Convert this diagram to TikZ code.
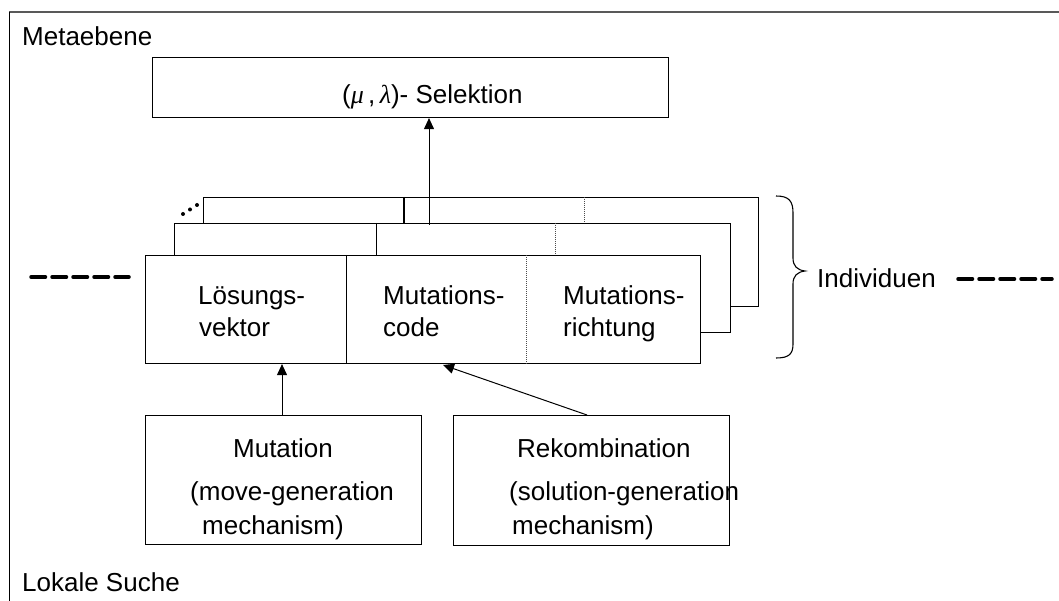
\documentclass[tikz,border=0pt]{standalone}
\usepackage{fontspec}
\setmainfont{Liberation Sans}
\newfontfamily\greekfont{Liberation Serif}
\usetikzlibrary{arrows.meta}
\begin{document}
\begin{tikzpicture}[x=1pt,y=-1pt,
  ln/.style={draw=black, line width=1.1pt},
  dotln/.style={draw=black!70, line width=0.7pt, dash pattern=on 1pt off 1pt},
  layer/.style={draw=black, line width=1.1pt, fill=white, anchor=north west, inner sep=0pt},
  lbl/.style={font=\fontsize{26}{31}\selectfont, inner sep=0pt, anchor=base west},
  lblc/.style={font=\fontsize{26}{31}\selectfont, inner sep=0pt, anchor=base},
  arr/.style={draw=black, line width=1pt, -{Triangle[length=11pt,width=10pt]}},
  dsh/.style={draw=black, line width=3.5pt, line cap=round, dash pattern=on 14.5pt off 6.5pt}
]
\useasboundingbox (0,0) rectangle (1059,601);
% outer frame
\draw[draw=black!65, line width=2pt] (9,12) -- (1059,12);
\draw[draw=black, line width=1pt] (9,12) -- (9,601);
\node[lbl] (meta) at (22,45.5) {Metaebene};
\node[lbl] (lokal) at (22,591) {Lokale Suche};
% selection box
\node[layer, minimum width=516pt, minimum height=60pt] (sel) at (152,57) {};
\node[lbl] (seltxt) at (342,104) {({\greekfont\itshape μ}\,,\,{\greekfont\itshape λ})- Selektion};
% back layer
\node[layer, minimum width=555pt, minimum height=109pt] (back) at (202.7,197) {};
\draw[ln] (back.north west) ++(201.3,0) coordinate (bd1) -- (bd1 |- 0,223);
\draw[dotln] (back.north west) ++(381.3,0) coordinate (bd2) -- (bd2 |- 0,223);
% middle layer
\node[layer, minimum width=556pt, minimum height=109pt] (mid) at (174,223) {};
\draw[ln] (mid.north west) ++(202.7,0) coordinate (md1) -- (md1 |- 0,255);
\draw[dotln] (mid.north west) ++(381.7,0) coordinate (md2) -- (md2 |- 0,255);
% arrow to selection
\coordinate (a1) at (429,225);
\draw[arr] (a1) -- (a1 |- sel.south);
% front layer
\node[layer, minimum width=555pt, minimum height=108pt] (front) at (145,255) {};
\draw[ln] (front.north west) ++(201.7,0) coordinate (fd1) -- (fd1 |- front.south);
\draw[dotln] (front.north west) ++(381,0) coordinate (fd2) -- (fd2 |- front.south);
% dots
\fill (183,214) circle (2) (190,209.5) circle (2) (197,205) circle (2);
% front texts
\node[lbl] (t1a) at (198,305) {Lösungs-};
\node[lbl] (t1b) at (199,336) {vektor};
\node[lbl] (t2a) at (383,305) {Mutations-};
\node[lbl] (t2b) at (383,336) {code};
\node[lbl] (t3a) at (563,305) {Mutations-};
\node[lbl] (t3b) at (563,336) {richtung};
% brace
\draw[ln] (776,196) .. controls (789,196) and (793,201) .. (793,213) -- (793,258)
  .. controls (793,266) and (797,270) .. (805,271)
  .. controls (797,272) and (793,276) .. (793,284) -- (793,344)
  .. controls (793,354) and (789,358) .. (776,358);
\node[lbl] (ind) at (817,288) {Individuen};
% dashes
\coordinate (dl1) at (31,277);
\coordinate (dl2) at (129,277);
\draw[dsh] (dl1) -- (dl2);
\coordinate (dr1) at (958,279);
\coordinate (dr2) at (1052,279);
\draw[dsh] (dr1) -- (dr2);
% bottom boxes
\node[layer, minimum width=276pt, minimum height=129pt] (mut) at (145,415) {};
\node[layer, minimum width=276pt, minimum height=130pt] (rek) at (453,415) {};
\node[lblc] (m1) at (283,457) {Mutation};
\node[lbl] (m2) at (190,500) {(move-generation};
\node[lbl] (m3) at (202,534) {mechanism)};
\node[lbl] (r1) at (517,457) {Rekombination};
\node[lbl] (r2) at (509,500) {(solution-generation};
\node[lbl] (r3) at (512,534) {mechanism)};
% arrows from bottom boxes
\draw[arr] (mut.north -| 282,0) -- (front.south -| 282,0);
\coordinate (rin) at (443,365);
\draw[arr] (rek.north -| 587,0) -- (rin);
\end{tikzpicture}
\end{document}
